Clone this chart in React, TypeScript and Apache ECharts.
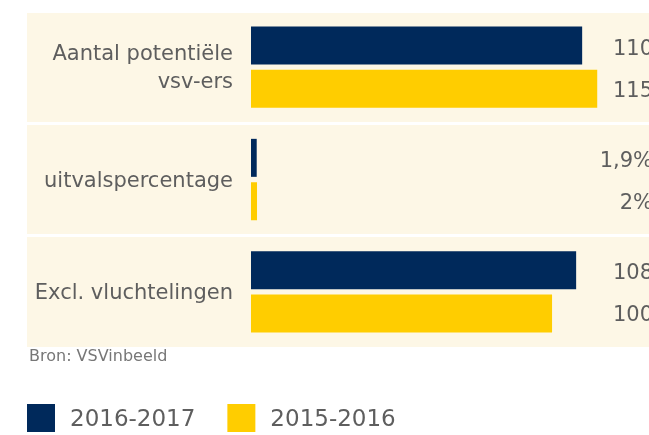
import React, { useEffect, useRef } from "react";
import * as echarts from "echarts";

const categories = ["Aantal potentiële\nvsv-ers", "uitvalspercentage", "Excl. vluchtelingen"];
const series2016 = [110, 1.9, 108];
const series2015 = [115, 2, 100];
const labels2016 = ["110", "1,9%", "108"];
const labels2015 = ["115", "2%", "100"];
const seriesNames = ["2016-2017", "2015-2016"];
const sourceText = "Bron: VSVinbeeld";

const NAVY = "#00295B";
const YELLOW = "#FFCD00";
const CREAM = "#FDF7E6";
const TEXT = "#5E5E5E";
const FONT = "DejaVu Sans, Verdana, sans-serif";

export default function App() {
  const ref = useRef<HTMLDivElement>(null);
  useEffect(() => {
    const chart = echarts.init(ref.current!, null, { renderer: "svg" });
    const valueLabel = (arr: string[]) => ({
      show: true,
      position: "right",
      formatter: (p: any) => arr[p.dataIndex],
      fontSize: 21,
      color: TEXT,
      fontFamily: FONT,
    });
    chart.setOption({
      animation: false,
      textStyle: { fontFamily: FONT },
      title: {
        text: sourceText,
        left: 24,
        top: 342,
        textStyle: { fontSize: 16, fontWeight: "normal", color: "#777777", fontFamily: FONT },
      },
      legend: {
        data: seriesNames,
        left: 22,
        top: 399,
        itemWidth: 28,
        itemHeight: 28,
        itemGap: 32,
        icon: "rect",
        textStyle: { fontSize: 23, color: TEXT, fontFamily: FONT, padding: [0, 0, 0, 10] },
      },
      grid: {
        left: 27,
        right: 0,
        top: 11,
        bottom: 87,
        containLabel: false,
        outerBoundsMode: "none",
      },
      xAxis: {
        type: "value",
        min: -74.4,
        max: 132.2,
        show: false,
        splitLine: { show: false },
      },
      yAxis: {
        type: "category",
        data: categories,
        inverse: true,
        offset: -224,
        axisLine: { show: false, onZero: false },
        axisTick: { show: false },
        axisLabel: {
          margin: 18,
          fontSize: 21,
          lineHeight: 28,
          color: TEXT,
          fontFamily: FONT,
          align: "right",
          padding: [3, 0, 0, 0],
        },
        splitArea: { show: true, areaStyle: { color: [CREAM, CREAM] } },
        splitLine: { show: true, lineStyle: { color: "#FFFFFF", width: 3 } },
      },
      series: [
        {
          name: seriesNames[0],
          type: "bar",
          data: series2016,
          barWidth: 38,
          barGap: "14%",
          itemStyle: { color: NAVY },
          label: valueLabel(labels2016),
          labelLayout: { x: 653, align: "right", verticalAlign: "middle", dy: 2 },
        },
        {
          name: seriesNames[1],
          type: "bar",
          data: series2015,
          barWidth: 38,
          barGap: "14%",
          itemStyle: { color: YELLOW },
          label: valueLabel(labels2015),
          labelLayout: { x: 653, align: "right", verticalAlign: "middle", dy: 1 },
        },
      ],
    });
    return () => chart.dispose();
  }, []);
  return (
    <div
      ref={ref}
      style={{ position: "fixed", left: 0, top: 0, width: 649, height: 435 }}
    />
  );
}
